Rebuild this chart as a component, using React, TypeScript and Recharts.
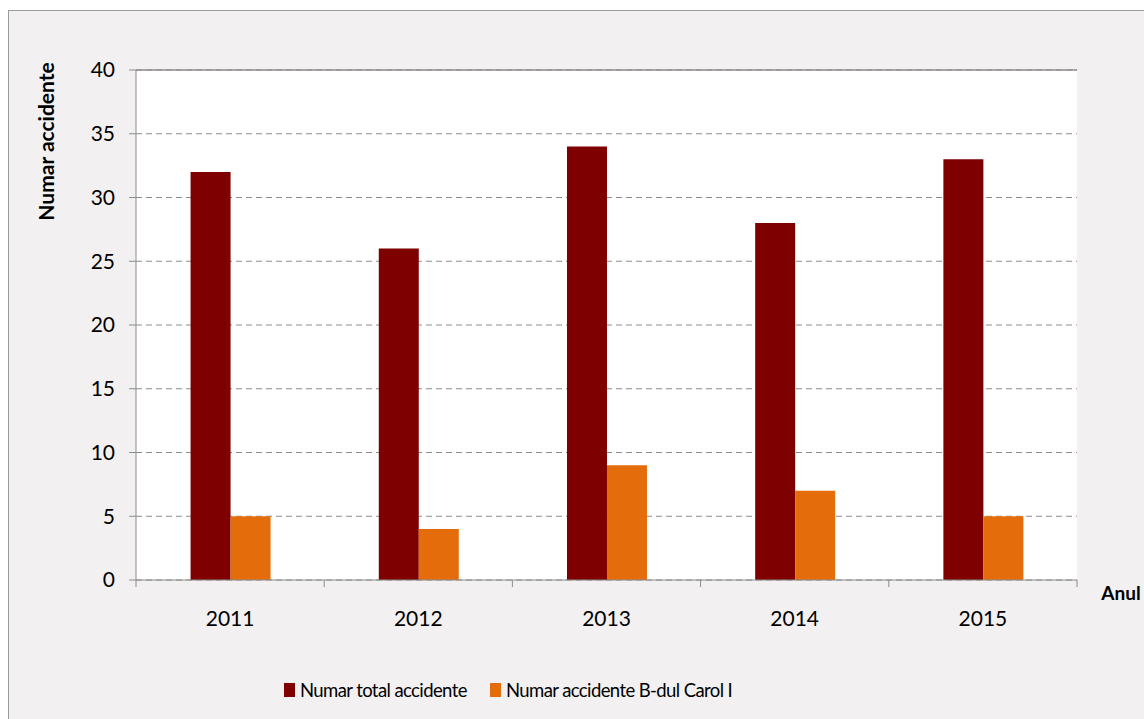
import { Bar, BarChart, CartesianGrid, Legend, ReferenceLine, XAxis, YAxis } from "recharts"

const years = ["2011", "2012", "2013", "2014", "2015"]
const totalAccidents = [32, 26, 34, 28, 33]
const carolAccidents = [5, 4, 9, 7, 5]
const yTicks = [0, 5, 10, 15, 20, 25, 30, 35, 40]

const seriesNames = ["Numar total accidente", "Numar accidente B-dul Carol I"]
const seriesColors = ["#7F0000", "#E46C0A"]

const data = years.map((year, i) => ({
  year,
  total: totalAccidents[i],
  carol: carolAccidents[i],
}))

const FONT = "Lato, 'Open Sans', sans-serif"
const WIDTH = 1144
const HEIGHT = 719
const MARGIN = { top: 70, right: 67, left: 0, bottom: 17 }
const Y_AXIS_W = 136
const BAND = (WIDTH - MARGIN.right - Y_AXIS_W) / years.length
const AXIS_GRAY = "#8c8c8c"

function YearTick(props: any) {
  const { x, y, payload, index } = props
  return (
    <g>
      <line x1={x - BAND / 2} x2={x - BAND / 2} y1={y} y2={y + 7} stroke={AXIS_GRAY} />
      {index === years.length - 1 && (
        <line x1={x + BAND / 2} x2={x + BAND / 2} y1={y} y2={y + 7} stroke={AXIS_GRAY} />
      )}
      <text x={x} y={y + 46} textAnchor="middle" fontSize={21} fill="#000" fontFamily={FONT}>
        {payload.value}
      </text>
    </g>
  )
}

function LegendContent() {
  const itemWidths = [206, 300]
  return (
    <div style={{ display: "flex", alignItems: "center", height: 24, paddingLeft: 284, fontFamily: FONT, fontSize: 18.5, letterSpacing: -0.6, color: "#000" }}>
      {seriesNames.map((name, i) => (
        <div key={name} style={{ display: "flex", alignItems: "center", width: itemWidths[i], whiteSpace: "nowrap" }}>
          <span style={{ display: "inline-block", width: 11, height: 14, background: seriesColors[i], marginRight: 5 }} />
          <span>{name}</span>
        </div>
      ))}
    </div>
  )
}

export default function App() {
  return (
    <div style={{ position: "absolute", left: 0, top: 0, width: WIDTH, height: HEIGHT, background: "#fff", overflow: "hidden" }}>
      <div
        style={{
          position: "absolute",
          left: 8,
          top: 10,
          width: WIDTH,
          height: HEIGHT,
          background: "#F2F0F1",
          border: "1px solid #9a9a9a",
        }}
      />
      <div style={{ position: "absolute", left: 0, top: 0 }}>
        <BarChart width={WIDTH} height={HEIGHT} data={data} margin={MARGIN} barGap={0} barCategoryGap="29%">
          <CartesianGrid vertical={false} stroke={AXIS_GRAY} strokeDasharray="6 4" fill="#fff" />
          <XAxis
            dataKey="year"
            tick={<YearTick />}
            tickLine={false}
            tickSize={0}
            tickMargin={0}
            height={98}
            axisLine={{ stroke: AXIS_GRAY }}
            label={{
              content: () => (
                <text x={1121} y={600} textAnchor="middle" fontSize={19} fontWeight="bold" fill="#000" fontFamily={FONT}>
                  Anul
                </text>
              ),
            }}
          />
          <YAxis
            domain={[0, 40]}
            ticks={yTicks}
            width={Y_AXIS_W}
            tickSize={7}
            tickMargin={14}
            interval={0}
            tick={{ fontSize: 21, fill: "#000", fontFamily: FONT }}
            tickLine={{ stroke: AXIS_GRAY }}
            axisLine={{ stroke: AXIS_GRAY }}
            label={{
              content: () => (
                <text
                  x={45.5}
                  y={141.5}
                  transform="rotate(-90, 45.5, 141.5)"
                  textAnchor="middle"
                  dominantBaseline="central"
                  fontSize={21}
                  fontWeight="bold"
                  fill="#000"
                  fontFamily={FONT}
                >
                  Numar accidente
                </text>
              ),
            }}
          />
          <YAxis yAxisId="right" orientation="right" width={0} tick={false} tickLine={false} axisLine={{ stroke: AXIS_GRAY }} />
          <ReferenceLine y={40} stroke={AXIS_GRAY} strokeWidth={1.5} ifOverflow="visible" />
          <Legend verticalAlign="bottom" content={<LegendContent />} wrapperStyle={{ left: 0, width: WIDTH }} />
          <Bar dataKey="total" name={seriesNames[0]} fill={seriesColors[0]} isAnimationActive={false} />
          <Bar dataKey="carol" name={seriesNames[1]} fill={seriesColors[1]} isAnimationActive={false} />
        </BarChart>
      </div>
    </div>
  )
}
